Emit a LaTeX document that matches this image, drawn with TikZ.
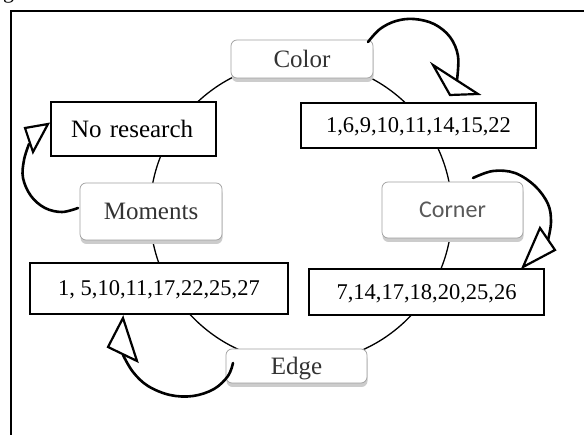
\documentclass[tikz,border=0pt]{standalone}
\usepackage{fontspec}
\setmainfont{Liberation Serif}
\newfontfamily\corfont{Carlito}
\usetikzlibrary{shadows}
\begin{document}
\begin{tikzpicture}[x=1pt,y=-1pt,
  rbox/.style={draw=gray!75, line width=0.7pt, fill=white, rounded corners=6pt,
    inner sep=0pt, text=black!80, text depth=0pt, font=\fontsize{25}{28}\selectfont,
    drop shadow={shadow xshift=0.5pt, shadow yshift=-4pt, fill=gray!40, opacity=1}},
  nbox/.style={draw=black, line width=2.6pt, fill=white, inner sep=0pt, text depth=0pt,
    font=\fontsize{22.5}{26}\selectfont},
  curve/.style={line width=2.6pt, line cap=round},
  head/.style={draw=black, fill=white, line width=2.2pt, line join=miter}
]
\useasboundingbox (0,0) rectangle (584,435);
% frame and fragment of caption above
\draw[line width=2.3pt] (11.2,11.2) rectangle (640,480);
\node[anchor=base, font=\fontsize{22}{24}\selectfont, inner sep=0pt] (frag) at (8.5,-1.5) {g};
% ring
\draw[line width=1.3pt] (301,212) circle[radius=151];
% rounded boxes
\node[rbox, minimum width=142pt, minimum height=38pt] (color) at (302,59) {Color};
\node[rbox, minimum width=141pt, minimum height=56pt, text=black!65,
  font=\corfont\fontsize{24}{28}\selectfont] (corner) at (452.5,210) {Corner};
\node[rbox, minimum width=142pt, minimum height=57pt] (moments) at (151,211.5) {Moments};
\node[rbox, minimum width=141pt, minimum height=34pt] (edge) at (296.5,366) {Edge};
% rectangular boxes
\node[nbox, minimum width=165pt, minimum height=54pt, font=\fontsize{25}{28}\selectfont,
  align=left, text width=125pt, inner xsep=20pt] (nores) at (133.5,129) {No research};
\node[nbox, minimum width=235pt, minimum height=45pt] (colorlist) at (418.5,125.5) {1,6,9,10,11,14,15,22};
\node[nbox, minimum width=258pt, minimum height=51pt] (momlist) at (159,288.5) {1, 5,10,11,17,22,25,27};
\node[nbox, minimum width=235pt, minimum height=46pt] (cornerlist) at (426.5,292) {7,14,17,18,20,25,26};
% curved arrows
\draw[curve] plot[smooth, tension=0.6] coordinates {(368,42) (380,29) (396,21) (414,19) (434,24) (450,37) (458,56) (457,80)};
\draw[head] (433,65) -- (478,94) -- (450,95) -- cycle;
\draw[curve] plot[smooth, tension=0.6] coordinates {(473,178) (493,171) (515,173) (535,186) (548,204) (551,222) (548,240)};
\draw[head] (540,228) -- (555,250) -- (523,267) -- cycle;
\draw[curve] plot[smooth, tension=0.6] coordinates {(233,363) (228,376) (214,389) (193,396) (170,395) (148,386) (133,372) (123,355)};
\draw[head] (123,318) -- (108,347) -- (137,361) -- cycle;
\draw[curve] plot[smooth, tension=0.6] coordinates {(78,208) (62,212) (45,208) (31,196) (23,178) (24,160) (29,144)};
\draw[head] (25,128) -- (48,124) -- (33,152) -- cycle;
\end{tikzpicture}
\end{document}
